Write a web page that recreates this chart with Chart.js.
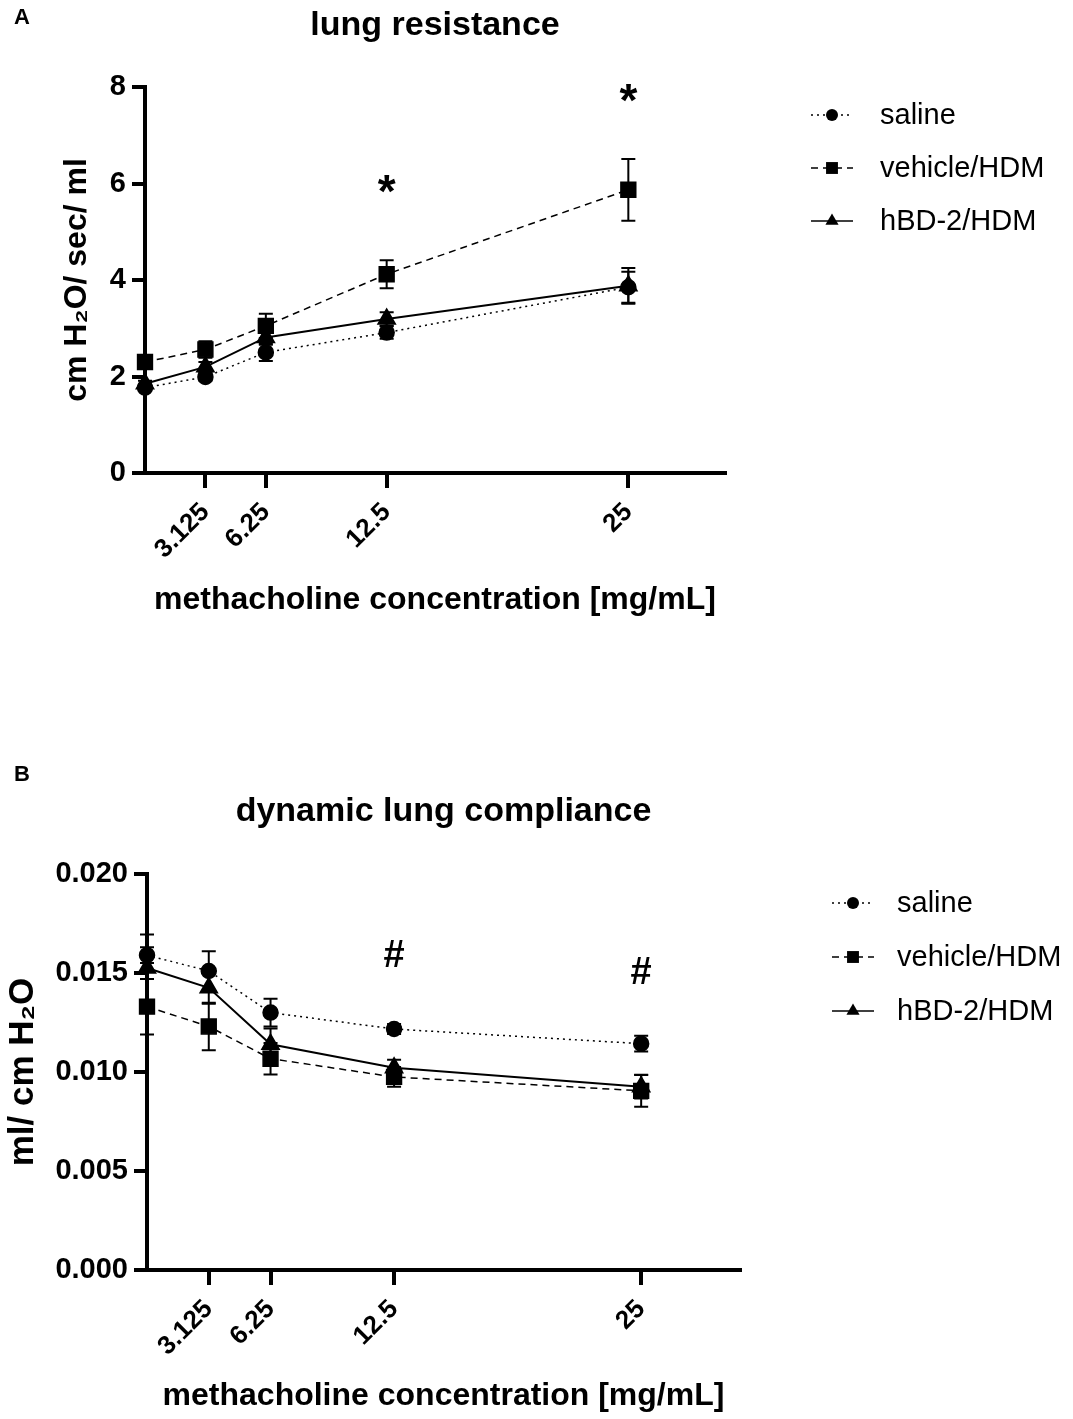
<!DOCTYPE html>
<html lang="en">
<head>
    <meta charset="UTF-8">
    <title>lung resistance / dynamic lung compliance</title>
    <script src="https://cdn.jsdelivr.net/npm/chart.js@4.4.1/dist/chart.umd.min.js"></script>
    <style>
        body { margin: 0; background: #fff; }
        canvas { display: block; }
    </style>
</head>
<body>

<canvas id="chartA" width="1073" height="700"></canvas>
<canvas id="chartB" width="1073" height="719"></canvas>

<script>

    // methacholine doses (mg/mL), first point is baseline
    var doses = [0, 3.125, 6.25, 12.5, 25];
    var doseTicks = [3.125, 6.25, 12.5, 25];
    var groups = ["saline", "vehicle/HDM", "hBD-2/HDM"];

    // A - lung resistance, mean and SEM
    var resSaline = [1.77, 1.99, 2.50, 2.91, 3.85];
    var resSalineErr = [0.05, 0.08, 0.18, 0.13, 0.32];
    var resVehicle = [2.30, 2.56, 3.05, 4.12, 5.87];
    var resVehicleErr = [0.12, 0.17, 0.25, 0.29, 0.64];
    var resHbd = [1.85, 2.20, 2.81, 3.19, 3.88];
    var resHbdErr = [0.06, 0.10, 0.15, 0.14, 0.37];
    var resMarkX = [12.5, 25];
    var resMarkY = [5.97, 7.84];

    // B - dynamic lung compliance, mean and SEM
    var compSaline = [0.0159, 0.0151, 0.0130, 0.01217, 0.01143];
    var compSalineErr = [0.0004, 0.0010, 0.0007, 0.00025, 0.0004];
    var compVehicle = [0.0133, 0.0123, 0.01067, 0.00975, 0.00905];
    var compVehicleErr = [0.0014, 0.0012, 0.0008, 0.0005, 0.0008];
    var compHbd = [0.01525, 0.01425, 0.0114, 0.01022, 0.00926];
    var compHbdErr = [0.0017, 0.0008, 0.0008, 0.0004, 0.0006];
    var compMarkX = [12.5, 25];
    var compMarkY = [0.0159, 0.0150];

    var font = "'Liberation Sans', Arial, sans-serif";

    var styles = [
        {dash: [2, 4], width: 1.5, point: 'circle', radius: 7.5},
        {dash: [7, 5], width: 1.5, point: 'rect', radius: 10.5},
        {dash: [], width: 2, point: 'triangle', radius: 9.5}
    ];

    function makeDatasets(values, errs) {
        return groups.map(function (g, i) {
            var s = styles[i];
            return {
                label: g,
                data: doses.map(function (x, j) { return {x: x, y: values[i][j]}; }),
                errors: errs[i],
                borderColor: '#000',
                backgroundColor: '#000',
                borderWidth: s.width,
                borderDash: s.dash,
                pointStyle: s.point,
                pointRadius: s.radius,
                pointHoverRadius: s.radius,
                tension: 0,
                clip: false
            };
        });
    }

    // mean +/- SEM bars with caps
    var errorBars = {
        id: 'errorBars',
        afterDatasetsDraw: function (chart) {
            var ctx = chart.ctx;
            var ys = chart.scales.y;
            ctx.save();
            ctx.strokeStyle = '#000';
            ctx.lineWidth = 2;
            chart.data.datasets.forEach(function (ds, i) {
                chart.getDatasetMeta(i).data.forEach(function (pt, j) {
                    var v = ds.data[j].y, e = ds.errors[j];
                    var top = ys.getPixelForValue(v + e);
                    var bot = ys.getPixelForValue(v - e);
                    ctx.beginPath();
                    ctx.moveTo(pt.x, top); ctx.lineTo(pt.x, bot);
                    ctx.moveTo(pt.x - 7, top); ctx.lineTo(pt.x + 7, top);
                    ctx.moveTo(pt.x - 7, bot); ctx.lineTo(pt.x + 7, bot);
                    ctx.stroke();
                });
            });
            ctx.restore();
        }
    };

    function marker(ctx, style, x, y, r) {
        ctx.beginPath();
        if (style == 'circle') {
            ctx.arc(x, y, r, 0, Math.PI * 2);
        } else if (style == 'rect') {
            var h = r * Math.SQRT1_2;
            ctx.rect(x - h, y - h, 2 * h, 2 * h);
        } else {
            ctx.moveTo(x, y - r);
            ctx.lineTo(x + r * 0.866, y + r * 0.5);
            ctx.lineTo(x - r * 0.866, y + r * 0.5);
            ctx.closePath();
        }
        ctx.fill();
    }

    // panel letter, title, significance marks and the legend on the right
    var decor = {
        id: 'decor',
        afterDraw: function (chart, args, o) {
            var ctx = chart.ctx, a = chart.chartArea;
            ctx.save();
            ctx.fillStyle = '#000';
            ctx.strokeStyle = '#000';
            ctx.textBaseline = 'middle';

            ctx.textAlign = 'left';
            ctx.font = 'bold 22px ' + font;
            ctx.fillText(o.letter, 14, o.letterY);

            ctx.textAlign = 'center';
            ctx.font = 'bold 34px ' + font;
            ctx.fillText(o.title, (a.left + a.right) / 2, o.titleY);

            ctx.font = 'bold ' + o.markSize + 'px ' + font;
            o.markX.forEach(function (x, i) {
                ctx.fillText(o.mark, chart.scales.x.getPixelForValue(x),
                    chart.scales.y.getPixelForValue(o.markY[i]) + o.markShift);
            });

            ctx.textAlign = 'left';
            ctx.font = '29px ' + font;
            chart.data.datasets.forEach(function (ds, i) {
                var y = o.legendY + i * o.legendStep;
                ctx.beginPath();
                ctx.setLineDash(ds.borderDash);
                ctx.lineWidth = 1.5;
                ctx.moveTo(o.legendX, y);
                ctx.lineTo(o.legendX + 42, y);
                ctx.stroke();
                ctx.setLineDash([]);
                marker(ctx, ds.pointStyle, o.legendX + 21, y, ds.pointRadius * 0.8);
                ctx.fillText(ds.label, o.legendTextX, y + 1);
            });
            ctx.restore();
        }
    };

    function makeChart(id, datasets, opt) {
        var tickFont = {family: font, size: 29, weight: 'bold'};
        return new Chart(document.getElementById(id), {
            type: 'line',
            data: {datasets: datasets},
            options: {
                responsive: false,
                animation: false,
                events: [],
                layout: {padding: {top: opt.top, right: opt.right, left: 0, bottom: 0}},
                plugins: {
                    legend: {display: false},
                    tooltip: {enabled: false},
                    decor: opt.decor
                },
                scales: {
                    x: {
                        type: 'linear',
                        min: 0,
                        max: 30,
                        afterBuildTicks: function (s) {
                            s.ticks = doseTicks.map(function (v) { return {value: v}; });
                        },
                        afterFit: function (s) { s.height = opt.xHeight; },
                        border: {color: '#000', width: 4},
                        grid: {drawOnChartArea: false, color: '#000', lineWidth: 4, tickLength: 15},
                        ticks: {
                            color: '#000',
                            font: {family: font, size: 26, weight: 'bold'},
                            minRotation: 45,
                            maxRotation: 45,
                            padding: 9,
                            callback: function (v) { return String(v); }
                        },
                        title: {
                            display: true,
                            text: 'methacholine concentration [mg/mL]',
                            color: '#000',
                            font: {family: font, size: 32, weight: 'bold'},
                            padding: {top: 0, bottom: opt.xTitlePad}
                        }
                    },
                    y: {
                        min: 0,
                        max: opt.yMax,
                        afterFit: function (s) { s.width = opt.yWidth; },
                        border: {color: '#000', width: 4},
                        grid: {drawOnChartArea: false, color: '#000', lineWidth: 4, tickLength: 13},
                        ticks: {
                            stepSize: opt.yStep,
                            color: '#000',
                            font: tickFont,
                            padding: 6,
                            callback: opt.yFmt
                        },
                        title: {
                            display: true,
                            text: opt.yTitle,
                            color: '#000',
                            font: {family: font, size: opt.yTitleSize, weight: 'bold'},
                            padding: {top: opt.yTitlePad, bottom: 0}
                        }
                    }
                }
            },
            plugins: [errorBars, decor]
        });
    }

    makeChart('chartA',
        makeDatasets([resSaline, resVehicle, resHbd], [resSalineErr, resVehicleErr, resHbdErr]), {
            top: 87, right: 348, yWidth: 145, xHeight: 227, xTitlePad: 81,
            yMax: 8, yStep: 2, yTitlePad: 58, yTitleSize: 32,
            yTitle: 'cm H\u2082O/ sec/ ml',
            yFmt: function (v) { return String(v); },
            decor: {
                letter: 'A', letterY: 18, title: 'lung resistance', titleY: 26,
                mark: '*', markSize: 46, markShift: 9, markX: resMarkX, markY: resMarkY,
                legendX: 811, legendTextX: 880, legendY: 115, legendStep: 53
            }
        });

    makeChart('chartB',
        makeDatasets([compSaline, compVehicle, compHbd], [compSalineErr, compVehicleErr, compHbdErr]), {
            top: 174, right: 333, yWidth: 147, xHeight: 149, xTitlePad: 4,
            yMax: 0.02, yStep: 0.005, yTitlePad: 2, yTitleSize: 35,
            yTitle: 'ml/ cm H\u2082O',
            yFmt: function (v) { return v.toFixed(3); },
            decor: {
                letter: 'B', letterY: 75, title: 'dynamic lung compliance', titleY: 112,
                mark: '#', markSize: 38, markShift: 1, markX: compMarkX, markY: compMarkY,
                legendX: 832, legendTextX: 897, legendY: 203, legendStep: 54
            }
        });

</script>

</body>
</html>
